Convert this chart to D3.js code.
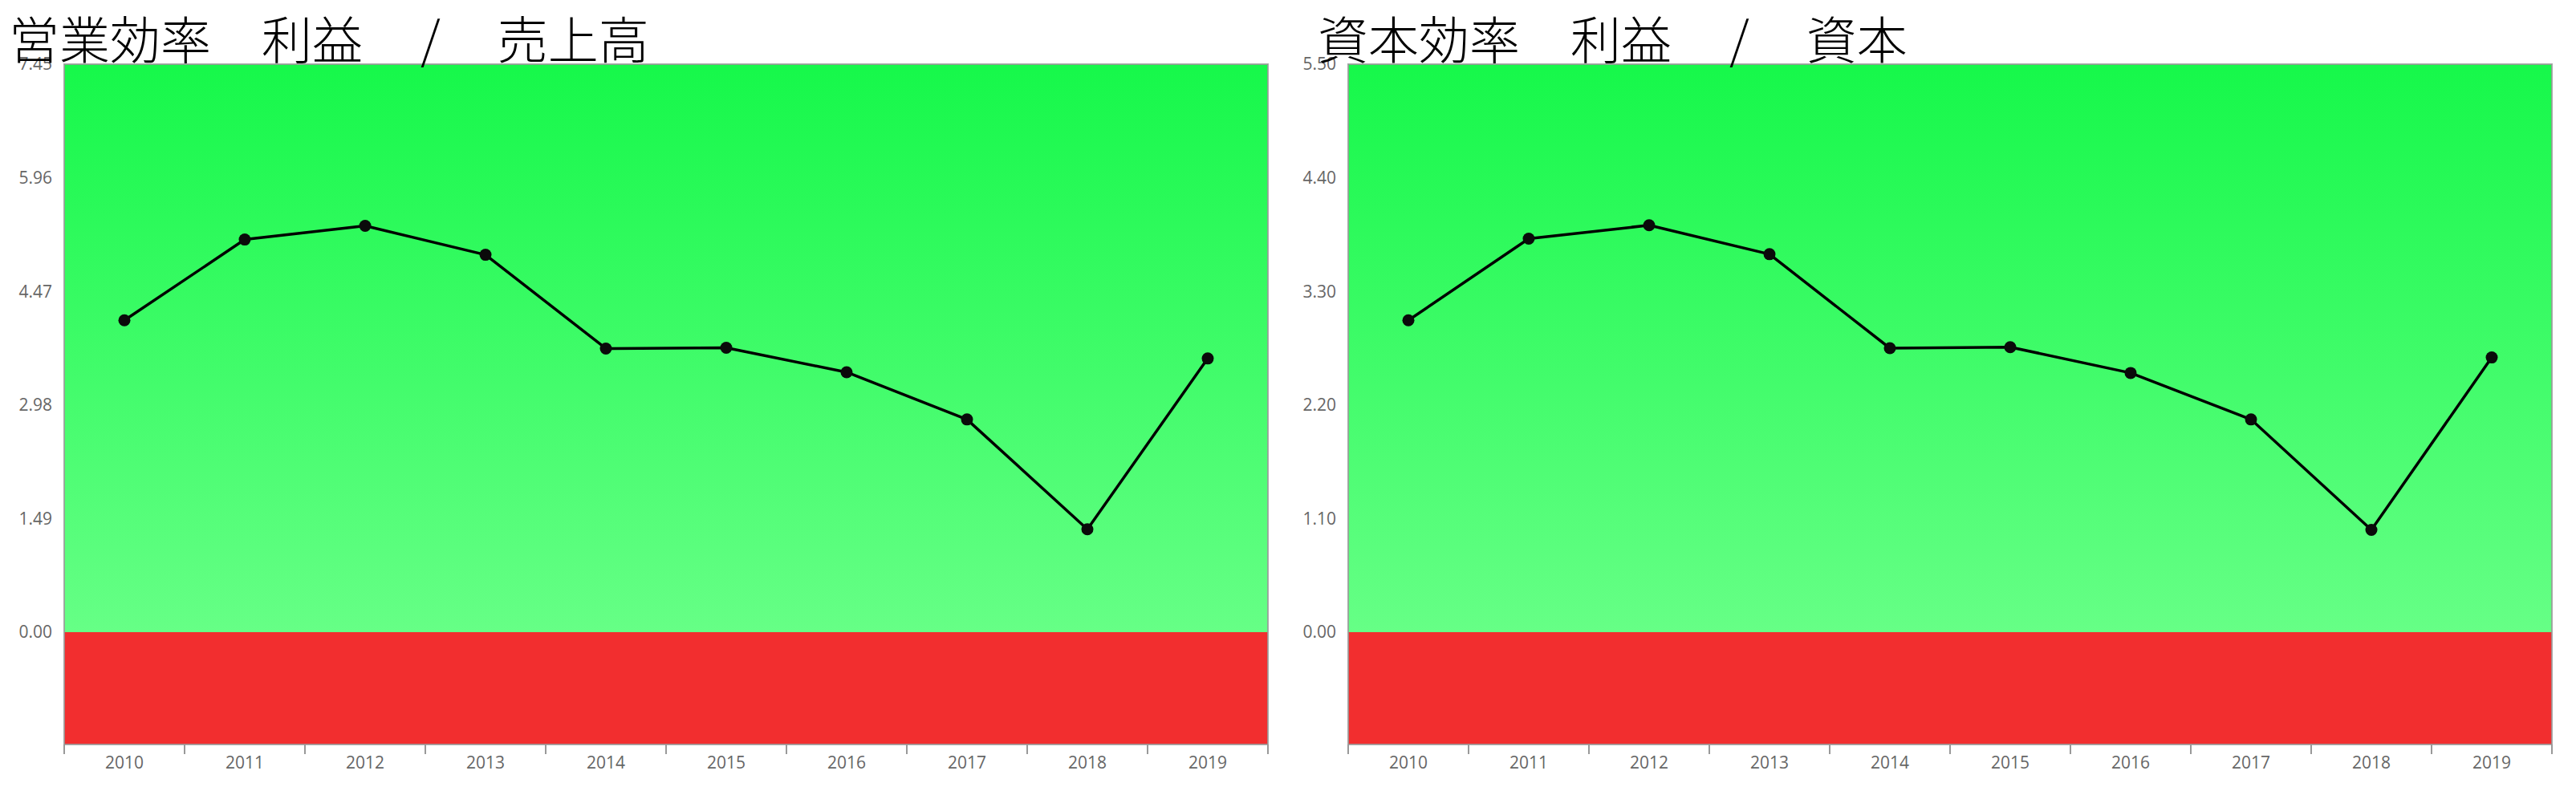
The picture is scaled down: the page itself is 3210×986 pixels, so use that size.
<!DOCTYPE html>
<html>
<head>
<meta charset="utf-8">
<script src="https://cdn.jsdelivr.net/npm/d3@7/dist/d3.min.js"></script>
<style>
  html, body { margin: 0; padding: 0; background: #fff; }
  svg { display: block; }
</style>
</head>
<body>
<svg id="chart" width="3210" height="986"></svg>
<script>
// ---- data ----
const years = ["2010","2011","2012","2013","2014","2015","2016","2017","2018","2019"];
const opValues  = [4.09, 5.15, 5.33, 4.95, 3.72, 3.73, 3.41, 2.79, 1.35, 3.59];
const capValues = [3.02, 3.81, 3.94, 3.66, 2.75, 2.76, 2.51, 2.06, 0.99, 2.66];
const opTicks  = [0, 1.49, 2.98, 4.47, 5.96, 7.45];
const capTicks = [0, 1.10, 2.20, 3.30, 4.40, 5.50];
const titleParts = [
  ["営業効率　利益　", "/", "　売上高"],
  ["資本効率　利益　", "/", "　資本"]
];

// ---- layout ----
const svg = d3.select("#chart");
const plotTop = 80, zeroY = 788, plotBottom = 928;
const panels = [
  { left: 80,   width: 1500, titleX: 11,   values: opValues,  ticks: opTicks,  title: titleParts[0] },
  { left: 1680, width: 1500, titleX: 1642, values: capValues, ticks: capTicks, title: titleParts[1] }
];

const defs = svg.append("defs");
const grad = defs.append("linearGradient")
  .attr("id", "greenGrad").attr("x1", 0).attr("y1", 0).attr("x2", 0).attr("y2", 1);
grad.append("stop").attr("offset", "0%").attr("stop-color", "#16f84a");
grad.append("stop").attr("offset", "100%").attr("stop-color", "#66ff86");

panels.forEach((p, idx) => {
  const g = svg.append("g");
  const x = d3.scaleBand().domain(years).range([p.left, p.left + p.width]);
  const y = d3.scaleLinear().domain([0, d3.max(p.ticks)]).range([zeroY, plotTop]);

  // background regions
  g.append("rect")
    .attr("x", p.left).attr("y", y(d3.max(p.ticks)))
    .attr("width", p.width).attr("height", y(0) - y(d3.max(p.ticks)))
    .attr("fill", "url(#greenGrad)");
  g.append("rect")
    .attr("x", p.left).attr("y", y(0))
    .attr("width", p.width).attr("height", plotBottom - y(0))
    .attr("fill", "#f22e2f");

  // border
  g.append("rect")
    .attr("x", p.left).attr("y", plotTop)
    .attr("width", p.width).attr("height", plotBottom - plotTop)
    .attr("fill", "none").attr("stroke", "#9a9a9a").attr("stroke-opacity", 0.85).attr("stroke-width", 2);

  // y tick labels
  g.selectAll("text.ytick").data(p.ticks).enter().append("text")
    .attr("class", "ytick")
    .attr("x", p.left - 15)
    .attr("y", d => y(d))
    .attr("dy", "0.35em")
    .attr("text-anchor", "end")
    .attr("font-family", "'Open Sans', sans-serif")
    .attr("font-size", 21)
    .attr("fill", "#666")
    .text(d => d.toFixed(2));

  // x axis ticks at band boundaries
  const bounds = years.map(d => x(d)).concat([p.left + p.width]);
  g.selectAll("line.xtick").data(bounds).enter().append("line")
    .attr("x1", d => d).attr("x2", d => d)
    .attr("y1", plotBottom).attr("y2", plotBottom + 12)
    .attr("stroke", "#999").attr("stroke-width", 2);

  // x labels
  g.selectAll("text.xlab").data(years).enter().append("text")
    .attr("class", "xlab")
    .attr("x", d => x(d) + x.bandwidth() / 2)
    .attr("y", 958)
    .attr("text-anchor", "middle")
    .attr("font-family", "'Open Sans', sans-serif")
    .attr("font-size", 21)
    .attr("fill", "#666")
    .text(d => d);

  // line
  const pts = years.map((d, i) => [x(d) + x.bandwidth() / 2, y(p.values[i])]);
  g.append("path")
    .attr("d", d3.line()(pts))
    .attr("fill", "none").attr("stroke", "#000").attr("stroke-width", 3.5)
    .attr("stroke-linejoin", "round");
  g.selectAll("circle.pt").data(years).enter().append("circle")
    .attr("class", "pt")
    .attr("cx", d => x(d) + x.bandwidth() / 2)
    .attr("cy", (d, i) => y(p.values[i]))
    .attr("r", 7.5)
    .attr("fill", "#0a0a0a");

  // title
  const t = svg.append("text")
    .attr("x", p.titleX).attr("y", 73)
    .attr("font-family", "'Noto Sans CJK JP', sans-serif")
    .attr("font-weight", 300)
    .attr("font-size", 63)
    .attr("fill", "#000")
    .attr("xml:space", "preserve");
  t.append("tspan").text(p.title[0]);
  t.append("tspan").attr("dx", 9).text(p.title[1]);
  t.append("tspan").attr("dx", 8).text(p.title[2]);
});
</script>
</body>
</html>
